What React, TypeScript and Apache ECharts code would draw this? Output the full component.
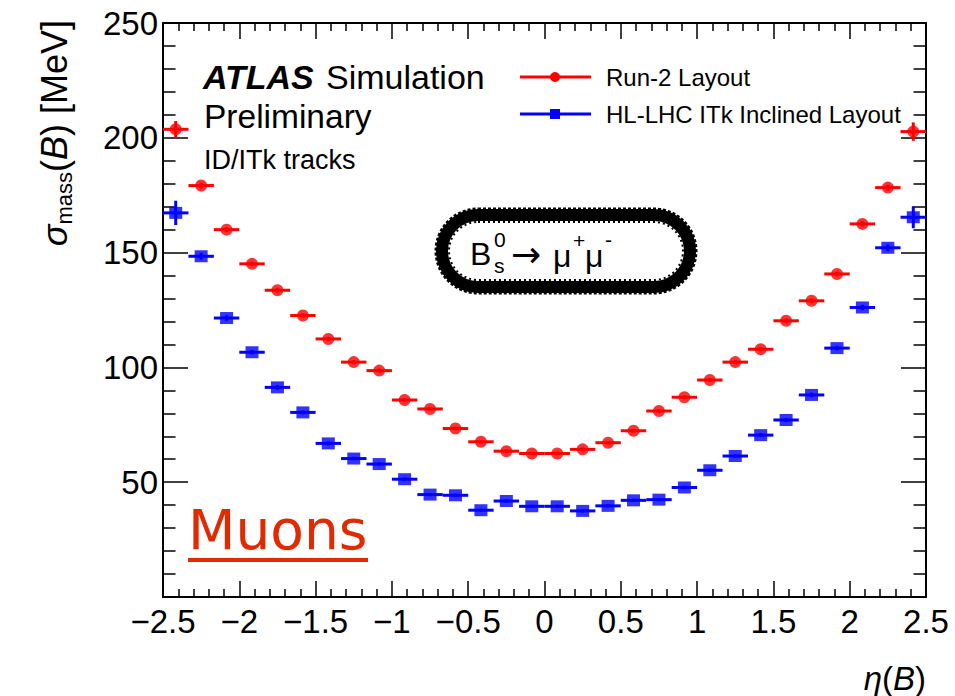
import React, { useEffect, useRef } from "react";
import * as echarts from "echarts";

// Bin centres in eta(B) (30 bins of width 1/6 between -2.5 and 2.5)
const etaCenters = [
  -2.4167, -2.25, -2.0833, -1.9167, -1.75, -1.5833, -1.4167, -1.25, -1.0833, -0.9167,
  -0.75, -0.5833, -0.4167, -0.25, -0.0833, 0.0833, 0.25, 0.4167, 0.5833, 0.75,
  0.9167, 1.0833, 1.25, 1.4167, 1.5833, 1.75, 1.9167, 2.0833, 2.25, 2.4167,
];
const binHalfWidth = 0.0833;

const run2Values = [
  203.7, 179.2, 160.0, 145.1, 133.6, 122.6, 112.4, 102.3, 98.6, 85.8,
  81.9, 73.4, 67.6, 63.5, 62.5, 62.5, 64.3, 67.2, 72.4, 81.0,
  87.0, 94.5, 102.3, 107.9, 120.3, 129.0, 140.7, 162.5, 178.3, 202.7,
];
const run2Errors = [
  3.6, 1.3, 1.1, 1.0, 1.0, 1.0, 0.9, 0.9, 0.9, 0.8,
  0.8, 0.8, 0.8, 0.8, 0.8, 0.8, 0.8, 0.8, 0.8, 0.8,
  0.8, 0.9, 0.9, 0.9, 1.0, 1.0, 1.0, 1.1, 1.3, 4.0,
];

const itkValues = [
  167.3, 148.4, 121.5, 106.6, 91.3, 80.4, 66.9, 60.3, 57.9, 51.3,
  44.6, 44.3, 37.8, 41.8, 39.5, 39.5, 37.5, 39.7, 42.1, 42.4,
  47.7, 55.2, 61.4, 70.5, 77.1, 88.0, 108.4, 126.1, 152.1, 165.4,
];
const itkErrors = [
  5.3, 1.5, 1.2, 1.0, 1.0, 0.9, 0.9, 0.8, 0.8, 0.8,
  0.7, 0.7, 0.7, 0.7, 0.7, 0.7, 0.7, 0.7, 0.7, 0.7,
  0.8, 0.8, 0.8, 0.9, 0.9, 1.0, 1.0, 1.2, 1.5, 4.8,
];

const xTicks = { min: -2.5, max: 2.5, interval: 0.5 };
const yTicks = { min: 0, max: 250, interval: 50 };

const seriesNames = ["Run-2 Layout", "HL-LHC ITk Inclined Layout"];
const RED = "#ff0000";
const BLUE = "#0000ff";
const FONT = "'Liberation Sans', Arial, Helvetica, sans-serif";

function fmtNum(v: number): string {
  const s = String(Math.round(v * 10) / 10);
  return s.replace("-", "\u2212");
}

function errorBarSeries(name: string, values: number[], errors: number[], color: string) {
  return {
    type: "custom",
    name,
    xAxisIndex: 0,
    yAxisIndex: 0,
    z: 3,
    silent: true,
    encode: { x: 0, y: 1 },
    data: etaCenters.map((x, i) => [x, values[i], errors[i]]),
    renderItem: (_params: any, api: any) => {
      const x = api.value(0);
      const y = api.value(1);
      const e = api.value(2);
      const l = api.coord([x - binHalfWidth, y]);
      const r = api.coord([x + binHalfWidth, y]);
      const t = api.coord([x, y + e]);
      const b = api.coord([x, y - e]);
      return {
        type: "group",
        children: [
          { type: "line", shape: { x1: l[0], y1: l[1], x2: r[0], y2: r[1] }, style: { stroke: color, lineWidth: 3 } },
          { type: "line", shape: { x1: t[0], y1: t[1], x2: b[0], y2: b[1] }, style: { stroke: color, lineWidth: 3 } },
        ],
      };
    },
  };
}

export default function App() {
  const ref = useRef<HTMLDivElement>(null);

  useEffect(() => {
    if (!ref.current) return;
    const chart = echarts.init(ref.current, null, { renderer: "svg" });

    const axisLineStyle = { color: "#000", width: 2 };
    const tickStyle = { color: "#000", width: 1.5 };

    const option: any = {
      animation: false,
      backgroundColor: "#fff",
      grid: { left: 163, right: 29, top: 23, bottom: 99, containLabel: false, outerBoundsMode: "none" },
      xAxis: [
        {
          type: "value",
          position: "bottom",
          min: xTicks.min,
          max: xTicks.max,
          interval: xTicks.interval,
          axisLine: { show: true, onZero: false, lineStyle: axisLineStyle },
          axisTick: { show: true, inside: true, length: 16, lineStyle: tickStyle },
          minorTick: { show: true, splitNumber: 5, length: 8, lineStyle: tickStyle },
          splitLine: { show: false },
          axisLabel: {
            show: true,
            margin: 8,
            fontSize: 33,
            color: "#000",
            fontFamily: FONT,
            formatter: (v: number) => fmtNum(v),
          },
        },
        {
          type: "value",
          position: "top",
          min: xTicks.min,
          max: xTicks.max,
          interval: xTicks.interval,
          axisLine: { show: true, onZero: false, lineStyle: axisLineStyle },
          axisTick: { show: true, inside: true, length: 16, lineStyle: tickStyle },
          minorTick: { show: true, splitNumber: 5, length: 8, lineStyle: tickStyle },
          splitLine: { show: false },
          axisLabel: { show: false },
        },
      ],
      yAxis: [
        {
          type: "value",
          position: "left",
          min: yTicks.min,
          max: yTicks.max,
          interval: yTicks.interval,
          axisLine: { show: true, onZero: false, lineStyle: axisLineStyle },
          axisTick: { show: true, inside: true, length: 25, lineStyle: tickStyle },
          minorTick: { show: true, splitNumber: 5, length: 12.5, lineStyle: tickStyle },
          splitLine: { show: false },
          axisLabel: {
            show: true,
            margin: 5,
            fontSize: 33,
            color: "#000",
            fontFamily: FONT,
            formatter: (v: number) => (v === 0 ? "" : fmtNum(v)),
          },
        },
        {
          type: "value",
          position: "right",
          min: yTicks.min,
          max: yTicks.max,
          interval: yTicks.interval,
          axisLine: { show: true, onZero: false, lineStyle: axisLineStyle },
          axisTick: { show: true, inside: true, length: 25, lineStyle: tickStyle },
          minorTick: { show: true, splitNumber: 5, length: 12.5, lineStyle: tickStyle },
          splitLine: { show: false },
          axisLabel: { show: false },
        },
      ],
      series: [
        errorBarSeries(seriesNames[0], run2Values, run2Errors, RED),
        errorBarSeries(seriesNames[1], itkValues, itkErrors, BLUE),
        {
          type: "scatter",
          name: seriesNames[0],
          xAxisIndex: 0,
          yAxisIndex: 0,
          z: 4,
          symbol: "circle",
          symbolSize: 12,
          itemStyle: { color: RED },
          data: etaCenters.map((x, i) => [x, run2Values[i]]),
        },
        {
          type: "scatter",
          name: seriesNames[1],
          xAxisIndex: 0,
          yAxisIndex: 0,
          z: 4,
          symbol: "rect",
          symbolSize: [13, 12],
          itemStyle: { color: BLUE },
          data: etaCenters.map((x, i) => [x, itkValues[i]]),
        },
      ],
      graphic: [
        // y-axis title
        {
          type: "text",
          x: 54,
          y: 20,
          rotation: Math.PI / 2,
          style: {
            text: "{i|σ}{sub|mass}{r|(}{i|B}{r|) [MeV]}",
            align: "right",
            verticalAlign: "middle",
            fill: "#000",
            rich: {
              i: { fontFamily: FONT, fontStyle: "italic", fontSize: 36, lineHeight: 42, fill: "#000" },
              r: { fontFamily: FONT, fontSize: 36, lineHeight: 42, fill: "#000" },
              sub: { fontFamily: FONT, fontSize: 22, lineHeight: 24, verticalAlign: "bottom", fill: "#000" },
            },
          },
        },
        // x-axis title
        {
          type: "text",
          x: 926,
          y: 678,
          style: {
            text: "{i|η}{r|(}{i|B}{r|)}",
            align: "right",
            verticalAlign: "middle",
            rich: {
              i: { fontFamily: FONT, fontStyle: "italic", fontSize: 33, fill: "#000" },
              r: { fontFamily: FONT, fontSize: 33, fill: "#000" },
            },
          },
        },
        // ATLAS label
        {
          type: "text",
          x: 203,
          y: 77,
          style: { text: "ATLAS", fontFamily: FONT, fontStyle: "italic", fontWeight: "bold", fontSize: 34, fill: "#000", align: "left", verticalAlign: "middle" },
        },
        {
          type: "text",
          x: 326,
          y: 77,
          style: { text: "Simulation", fontFamily: FONT, fontSize: 34, fill: "#000", align: "left", verticalAlign: "middle" },
        },
        {
          type: "text",
          x: 204,
          y: 116,
          style: { text: "Preliminary", fontFamily: FONT, fontSize: 33.5, fill: "#000", align: "left", verticalAlign: "middle" },
        },
        {
          type: "text",
          x: 204,
          y: 160,
          style: { text: "ID/ITk tracks", fontFamily: FONT, fontSize: 27, fill: "#000", align: "left", verticalAlign: "middle" },
        },
        // Legend
        { type: "line", shape: { x1: 520, y1: 77, x2: 591, y2: 77 }, style: { stroke: RED, lineWidth: 3 } },
        { type: "circle", shape: { cx: 555, cy: 77, r: 5 }, style: { fill: RED } },
        {
          type: "text",
          x: 606,
          y: 77,
          style: { text: seriesNames[0], fontFamily: FONT, fontSize: 24, fill: "#000", align: "left", verticalAlign: "middle" },
        },
        { type: "line", shape: { x1: 520, y1: 114, x2: 591, y2: 114 }, style: { stroke: BLUE, lineWidth: 3 } },
        { type: "rect", shape: { x: 550, y: 109, width: 10, height: 10 }, style: { fill: BLUE } },
        {
          type: "text",
          x: 606,
          y: 114,
          style: { text: seriesNames[1], fontFamily: FONT, fontSize: 24, fill: "#000", align: "left", verticalAlign: "middle" },
        },
        // Decay box (hand-drawn style)
        {
          type: "rect",
          shape: { x: 442, y: 215, width: 248, height: 72, r: 36 },
          style: { fill: "transparent", stroke: "#000", lineWidth: 12 },
        },
        {
          type: "rect",
          shape: { x: 436, y: 209, width: 260, height: 84, r: 42 },
          style: { fill: "transparent", stroke: "#000", lineWidth: 3, lineDash: [3, 2] },
        },
        {
          type: "rect",
          shape: { x: 449, y: 222, width: 234, height: 58, r: 29 },
          style: { fill: "transparent", stroke: "#000", lineWidth: 2, lineDash: [2, 3] },
        },
        {
          type: "text",
          x: 470,
          y: 254,
          style: { text: "B", fontFamily: FONT, fontSize: 32, fill: "#000", align: "left", verticalAlign: "middle" },
        },
        {
          type: "text",
          x: 494,
          y: 239,
          style: { text: "0", fontFamily: FONT, fontSize: 21, fill: "#000", align: "left", verticalAlign: "middle" },
        },
        {
          type: "text",
          x: 494,
          y: 265,
          style: { text: "s", fontFamily: FONT, fontSize: 21, fill: "#000", align: "left", verticalAlign: "middle" },
        },
        {
          type: "text",
          x: 511,
          y: 254,
          style: { text: "→", fontFamily: "'DejaVu Sans', sans-serif", fontSize: 36, fill: "#000", align: "left", verticalAlign: "middle" },
        },
        {
          type: "text",
          x: 553,
          y: 256,
          style: { text: "μ", fontFamily: FONT, fontSize: 32, fill: "#000", align: "left", verticalAlign: "middle" },
        },
        {
          type: "text",
          x: 573,
          y: 240,
          style: { text: "+", fontFamily: FONT, fontSize: 21, fill: "#000", align: "left", verticalAlign: "middle" },
        },
        {
          type: "text",
          x: 585,
          y: 256,
          style: { text: "μ", fontFamily: FONT, fontSize: 32, fill: "#000", align: "left", verticalAlign: "middle" },
        },
        {
          type: "text",
          x: 605,
          y: 239,
          style: { text: "-", fontFamily: FONT, fontSize: 21, fill: "#000", align: "left", verticalAlign: "middle" },
        },
        // Muons label
        {
          type: "text",
          x: 188,
          y: 530,
          style: {
            text: "Muons",
            fontFamily: "'DejaVu Sans', sans-serif",
            fontSize: 55,
            fill: "#e22a00",
            align: "left",
            verticalAlign: "middle",
          },
        },
        { type: "line", shape: { x1: 188, y1: 560, x2: 368, y2: 560 }, style: { stroke: "#e22a00", lineWidth: 4 } },
      ],
    };

    chart.setOption(option);
    return () => {
      chart.dispose();
    };
  }, []);

  return (
    <div
      ref={ref}
      style={{ position: "fixed", left: 0, top: 0, width: 955, height: 696, background: "#fff" }}
    />
  );
}
